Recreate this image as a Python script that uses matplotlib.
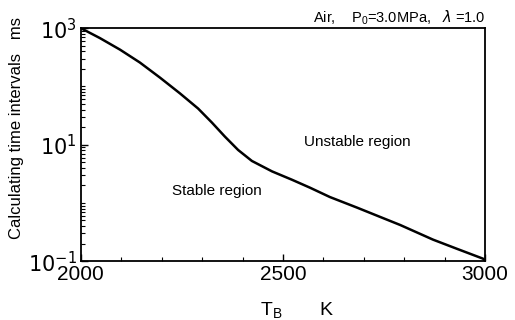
import numpy as np
import matplotlib.pyplot as plt
from matplotlib.ticker import LogLocator, MultipleLocator, FixedLocator

# values
temp_k = [2000, 2047, 2097, 2146, 2196, 2245, 2290, 2324, 2356, 2389, 2423,
          2473, 2522, 2567, 2616, 2683, 2740, 2790, 2871, 2931, 2995, 3000]
dt_ms = [1000, 676, 427, 257, 141, 76, 41.7, 24, 13.8, 8.1, 5.25,
         3.47, 2.5, 1.82, 1.26, 0.83, 0.575, 0.417, 0.234, 0.162, 0.11, 0.1]
x_ticks = [2000, 2500, 3000]
y_ticks = [1e-1, 1e1, 1e3]
y_tick_labels = [r'$10^{-1}$', r'$10^{1}$', r'$10^{3}$']

plt.rcParams['font.family'] = ['Liberation Sans', 'DejaVu Sans']

fig = plt.figure(figsize=(5.15, 3.2), dpi=100)
ax = fig.add_axes([0.157, 0.184, 0.785, 0.728])

ax.plot(temp_k, dt_ms, color='black', lw=1.8, solid_joinstyle='round')

ax.set_yscale('log')
ax.set_xlim(2000, 3000)
ax.set_ylim(1e-1, 1e3)

ax.xaxis.set_major_locator(FixedLocator(x_ticks))
ax.xaxis.set_minor_locator(MultipleLocator(100))
ax.yaxis.set_major_locator(FixedLocator(y_ticks))
ax.set_yticklabels(y_tick_labels)
ax.yaxis.set_minor_locator(LogLocator(base=10, subs=np.arange(1, 10), numticks=20))
ax.tick_params(which='major', direction='in', length=5, width=1, labelsize=15, pad=3)
ax.tick_params(which='minor', direction='in', length=3, width=0.8)
ax.tick_params(axis='y', which='minor', labelleft=False)

for sp in ax.spines.values():
    sp.set_linewidth(1.3)

ax.set_ylabel('Calculating time intervals   ms', fontsize=12)
ax.yaxis.set_label_coords(-0.14, 0.57)
ax.set_xlabel(r'T$_\mathregular{B}$       K', fontsize=14)
ax.xaxis.set_label_coords(0.535, -0.17)

ax.text(1.0, 1.005, r'Air,    P$_\mathregular{0}$=3.0MPa,   $\lambda$ =1.0',
        transform=ax.transAxes, ha='right', va='bottom', fontsize=10.5)
ax.text(2683, 11, 'Unstable region', ha='center', va='center', fontsize=11)
ax.text(2226, 1.58, 'Stable region', ha='left', va='center', fontsize=11)

fig.savefig('out.png', dpi=100)
